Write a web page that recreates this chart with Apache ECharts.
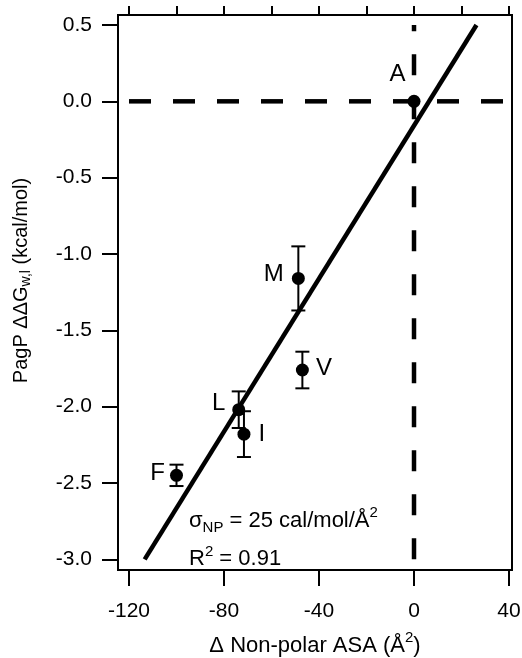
<!DOCTYPE html>
<html>
<head>
<meta charset="utf-8">
<script src="https://cdn.jsdelivr.net/npm/echarts@6/dist/echarts.min.js"></script>
<style>
html, body { margin: 0; padding: 0; background: #fff; }
#chart { width: 522px; height: 658px; }
</style>
</head>
<body>
<div id="chart"></div>
<script>
// residues, ΔASA (Å²) and PagP ΔΔG (kcal/mol)
const residues = ['A', 'M', 'V', 'L', 'I', 'F']
const deltaASA = [0, -48.7, -47.0, -73.8, -71.6, -100.0]
const ddG = [0, -1.16, -1.76, -2.02, -2.18, -2.45]
const ddGErr = [0, 0.21, 0.12, 0.12, 0.15, 0.07]

// linear fit end points
const fitX = [-113.4, 26.3]
const fitY = [-3.0, 0.5]

// dashed guide lines (y = 0 and x = 0)
const zeroLineX = [-120, 41.3]
const zeroLineY = [-3.0, 0.5]

// ticks
const xMajorTicks = [-120, -80, -40, 0, 40]
const xMinorTicks = [-120, -100, -80, -60, -40, -20, 0, 20, 40]
const yTicks = [-3.0, -2.5, -2.0, -1.5, -1.0, -0.5, 0.0, 0.5]

const FONT = 'Liberation Sans, Arial, Helvetica, sans-serif'

// where each residue label sits relative to its point
const labelPos = {
  A: { position: 'left', distance: 2, offset: [0, -27] },
  M: { position: 'left', distance: 8, offset: [0, -4] },
  V: { position: 'right', distance: 7, offset: [0, -2] },
  L: { position: 'left', distance: 7, offset: [0, -6] },
  I: { position: 'right', distance: 8, offset: [0, 0] },
  F: { position: 'left', distance: 5, offset: [0, -2] }
}

const points = residues.map((r, i) => ({
  name: r,
  value: [deltaASA[i], ddG[i]],
  label: labelPos[r]
}))
// only points with a visible error get a bar
const errRows = residues
  .map((r, i) => [deltaASA[i], ddG[i] - ddGErr[i], ddG[i] + ddGErr[i]])
  .filter((row, i) => ddGErr[i] > 0)

const chart = echarts.init(document.getElementById('chart'))

const tickStyle = { color: '#000', width: 2 }

const option = {
  animation: false,
  backgroundColor: '#fff',
  grid: {
    left: 118, right: 10, top: 15, bottom: 88,
    outerBoundsMode: 'none',
    containLabel: false,
    show: true, borderColor: '#000', borderWidth: 2
  },
  xAxis: [
    {
      type: 'value', min: -124.63, max: 41.26,
      axisLine: { show: true, onZero: false, lineStyle: tickStyle },
      axisTick: { show: true, customValues: xMajorTicks, length: 16, lineStyle: tickStyle },
      axisLabel: { customValues: xMajorTicks, margin: 31, fontSize: 21, color: '#000', fontFamily: FONT },
      splitLine: { show: false },
      name: '{t|Δ Non-polar ASA (Å}{sup|2}{t|)}',
      nameLocation: 'middle',
      nameGap: 60,
      nameTextStyle: {
        rich: {
          t: { fontSize: 22, lineHeight: 32, fontFamily: FONT, color: '#000' },
          sup: { fontSize: 15, lineHeight: 6, verticalAlign: 'top', fontFamily: FONT, color: '#000' }
        }
      }
    },
    {
      type: 'value', min: -124.63, max: 41.26,
      axisLine: { show: false, onZero: false },
      axisTick: { show: true, customValues: xMinorTicks, length: 9, lineStyle: tickStyle },
      axisLabel: { show: false },
      splitLine: { show: false }
    }
  ],
  yAxis: {
    type: 'value', min: -3.07, max: 0.5655,
    axisLine: { show: true, onZero: false, lineStyle: tickStyle },
    axisTick: { show: true, customValues: yTicks, length: 16, lineStyle: tickStyle },
    axisLabel: {
      customValues: yTicks,
      formatter: v => v.toFixed(1),
      margin: 26, fontSize: 21, color: '#000', fontFamily: FONT
    },
    splitLine: { show: false }
  },
  graphic: [
    {
      type: 'text',
      x: 21, y: 280.5,
      rotation: Math.PI / 2,
      style: {
        text: '{t|PagP ΔΔG}{sub|w,l}{t| (kcal/mol)}',
        align: 'center', verticalAlign: 'middle',
        rich: {
          t: { fontSize: 20, lineHeight: 24, fontFamily: FONT, fill: '#000' },
          sub: { fontSize: 14, lineHeight: 12, verticalAlign: 'bottom', fontFamily: FONT, fill: '#000' }
        }
      }
    },
    {
      type: 'text',
      x: 189, y: 520.6,
      z: 100,
      style: {
        text: '{t|σ}{sub|NP}{t| = 25 cal/mol/Å}{sup|2}',
        align: 'left', verticalAlign: 'middle',
        rich: {
          t: { fontSize: 22, lineHeight: 30, fontFamily: FONT, fill: '#000' },
          sub: { fontSize: 15, lineHeight: 17, verticalAlign: 'bottom', fontFamily: FONT, fill: '#000' },
          sup: { fontSize: 15, lineHeight: 13, verticalAlign: 'top', fontFamily: FONT, fill: '#000' }
        }
      }
    },
    {
      type: 'text',
      x: 189, y: 559.3,
      z: 100,
      style: {
        text: '{t|R}{sup|2}{t| = 0.91}',
        align: 'left', verticalAlign: 'middle',
        rich: {
          t: { fontSize: 22, lineHeight: 30, fontFamily: FONT, fill: '#000' },
          sup: { fontSize: 15, lineHeight: 9, verticalAlign: 'top', fontFamily: FONT, fill: '#000' }
        }
      }
    }
  ],
  series: [
    {
      // y = 0 guide
      type: 'line', xAxisIndex: 0, silent: true, symbol: 'none', z: 1,
      data: [[zeroLineX[0], 0], [zeroLineX[1], 0]],
      lineStyle: { color: '#000', width: 4.5, type: [22, 22] }
    },
    {
      // x = 0 guide (drawn bottom to top)
      type: 'line', xAxisIndex: 0, silent: true, symbol: 'none', z: 1,
      data: [[0, zeroLineY[0]], [0, zeroLineY[1]]],
      lineStyle: { color: '#000', width: 4.5, type: [21, 23] }
    },
    {
      // fit
      type: 'line', xAxisIndex: 0, silent: true, symbol: 'none', z: 2,
      data: fitX.map((x, i) => [x, fitY[i]]),
      lineStyle: { color: '#000', width: 4.5 }
    },
    {
      // error bars
      type: 'custom', xAxisIndex: 0, z: 3,
      data: errRows,
      encode: { x: 0, y: [1, 2] },
      renderItem(params, api) {
        const x = api.value(0)
        const bot = api.coord([x, api.value(1)])
        const top = api.coord([x, api.value(2)])
        const w = 7
        const style = { stroke: '#000', lineWidth: 2 }
        return {
          type: 'group',
          children: [
            { type: 'line', shape: { x1: top[0], y1: top[1], x2: bot[0], y2: bot[1] }, style },
            { type: 'line', shape: { x1: top[0] - w, y1: top[1], x2: top[0] + w, y2: top[1] }, style },
            { type: 'line', shape: { x1: bot[0] - w, y1: bot[1], x2: bot[0] + w, y2: bot[1] }, style }
          ]
        }
      }
    },
    {
      type: 'scatter', xAxisIndex: 0, z: 4,
      symbol: 'circle', symbolSize: 13,
      itemStyle: { color: '#000', opacity: 1 },
      label: {
        show: true, formatter: p => p.name,
        fontSize: 24, color: '#000', fontFamily: FONT
      },
      data: points
    }
  ]
}

chart.setOption(option)
</script>
</body>
</html>
